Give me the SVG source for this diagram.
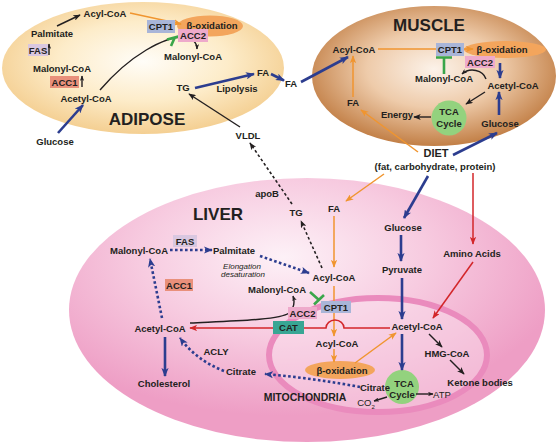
<svg xmlns="http://www.w3.org/2000/svg" width="560" height="446" viewBox="0 0 560 446">
<defs>
<radialGradient id="gA" cx="0.5" cy="0.45" r="0.55"><stop offset="0" stop-color="#fffdf8"/><stop offset="0.55" stop-color="#fdecc9"/><stop offset="1" stop-color="#f4cf92"/></radialGradient>
<radialGradient id="gM" cx="0.5" cy="0.45" r="0.55"><stop offset="0" stop-color="#fcf2e9"/><stop offset="0.5" stop-color="#eecbaa"/><stop offset="1" stop-color="#c27f46"/></radialGradient>
<radialGradient id="gL" cx="0.45" cy="0.3" r="0.6"><stop offset="0" stop-color="#fdf1f7"/><stop offset="0.5" stop-color="#f7cbe0"/><stop offset="1" stop-color="#ee9ec5"/></radialGradient>
<marker id="aB" viewBox="0 0 10 8" refX="9" refY="4" markerWidth="9" markerHeight="7.5" markerUnits="userSpaceOnUse" orient="auto"><path d="M0,0 L10,4 L0,8 L2.5,4 z" fill="#2c3d8f"/></marker>
<marker id="aO" viewBox="0 0 10 8" refX="9" refY="4" markerWidth="8" markerHeight="6.5" markerUnits="userSpaceOnUse" orient="auto"><path d="M0,0 L10,4 L0,8 L2.5,4 z" fill="#f0952f"/></marker>
<marker id="aR" viewBox="0 0 10 8" refX="9" refY="4" markerWidth="8" markerHeight="6.5" markerUnits="userSpaceOnUse" orient="auto"><path d="M0,0 L10,4 L0,8 L2.5,4 z" fill="#d3262a"/></marker>
<marker id="aK" viewBox="0 0 10 8" refX="9" refY="4" markerWidth="7.5" markerHeight="6" markerUnits="userSpaceOnUse" orient="auto"><path d="M0,0 L10,4 L0,8 L2.5,4 z" fill="#231f20"/></marker>
<marker id="aKs" viewBox="0 0 10 8" refX="9" refY="4" markerWidth="5.5" markerHeight="4.5" markerUnits="userSpaceOnUse" orient="auto"><path d="M0,0 L10,4 L0,8 L2.5,4 z" fill="#231f20"/></marker>
</defs>
<style>
text{font-family:"Liberation Sans",Arial,Helvetica,sans-serif;fill:#231f20;text-anchor:middle}
.t{font-size:9.5px;font-weight:bold}
.ttl{font-size:17px;font-weight:bold}
.it{font-size:8px;font-style:italic}
.th{font-size:9.5px}
.bl{stroke:#2c3d8f;stroke-width:2.6;fill:none}
.bd{stroke:#2c3d8f;stroke-width:2.6;fill:none;stroke-dasharray:2.6 2.4}
.or{stroke:#f0952f;stroke-width:1.5;fill:none}
.rd{stroke:#d3262a;stroke-width:1.5;fill:none}
.bk{stroke:#231f20;stroke-width:1.4;fill:none}
.kd{stroke:#231f20;stroke-width:1.6;fill:none;stroke-dasharray:2.8 2.4}
.gr{stroke:#3aa64a;stroke-width:2.6;fill:none}
.cpt{fill:#a9b5d8}
.acc2{fill:#eeaacb}
.fas{fill:#d9c7e0}
.acc1{fill:#e9907b}
.cat{fill:#38a694}
.box{font-size:9.5px;font-weight:bold}
.beta{fill:#f3a55c}
.tca{fill:#93d27e}
</style>
<rect width="560" height="446" fill="#ffffff"/>

<!-- compartments -->
<g id="liver-compartment">
<ellipse cx="307" cy="310" rx="238" ry="132" fill="url(#gL)"/>
<text class="ttl" x="218" y="220">LIVER</text>
</g>
<g id="mitochondria-compartment">
<ellipse cx="378" cy="355" rx="109" ry="57" fill="#fbe0ee" fill-opacity="0.45" stroke="#ea8bbd" stroke-width="6"/>
<text x="305" y="401" style="font-size:10.5px;font-weight:bold">MITOCHONDRIA</text>
</g>
<g id="adipose-compartment">
<ellipse cx="143" cy="68" rx="141" ry="66" fill="url(#gA)"/>
<text class="ttl" x="147" y="125">ADIPOSE</text>
</g>
<g id="muscle-compartment">
<ellipse cx="434" cy="76" rx="122" ry="70" fill="url(#gM)"/>
<text class="ttl" x="429" y="31">MUSCLE</text>
</g>

<!-- enzyme ellipses and circles under connectors -->
<g id="ad-beta"><ellipse class="beta" cx="210" cy="26" rx="33" ry="10.5"/><text class="t" x="212" y="29">β-oxidation</text></g>
<g id="mu-beta"><ellipse class="beta" cx="505" cy="49.5" rx="41" ry="8.5"/><text class="t" x="502" y="53">β-oxidation</text></g>
<g id="li-beta"><ellipse class="beta" cx="340" cy="370" rx="35" ry="9"/><text class="t" x="342" y="373.5">β-oxidation</text></g>
<g id="mu-tca"><circle class="tca" cx="449" cy="118" r="17.5"/><text class="t" x="449" y="115">TCA</text><text class="t" x="449" y="126.5">Cycle</text></g>
<g id="mi-tca"><circle class="tca" cx="402" cy="387" r="17"/><text class="t" x="404" y="386.5">TCA</text><text class="t" x="402" y="397.5">Cycle</text></g>

<g id="connectors">
<!-- adipose -->
<line class="bl" x1="58" y1="133" x2="83" y2="105" marker-end="url(#aB)"/>
<line class="bk" x1="57" y1="26" x2="80" y2="15" marker-end="url(#aK)"/>
<line class="bk" x1="49" y1="55" x2="49" y2="44" stroke-width="1" marker-end="url(#aKs)"/>
<line class="bk" x1="82" y1="87" x2="82" y2="76" stroke-width="1" marker-end="url(#aKs)"/>
<line class="or" x1="130" y1="13" x2="181" y2="24" marker-end="url(#aO)"/>
<path class="bk" d="M100,90 C130,55 165,36 185,37 C193,38 197,43 197,49" stroke-width="1.1" marker-end="url(#aKs)"/>
<line class="bl" x1="195" y1="88" x2="254" y2="74" marker-end="url(#aB)"/>
<line class="bl" x1="271" y1="74" x2="284" y2="80.5" marker-end="url(#aB)"/>
<line class="bl" x1="301" y1="82" x2="348" y2="57" marker-end="url(#aB)"/>
<line class="bk" x1="240" y1="127" x2="189" y2="94" marker-end="url(#aK)"/>
<line class="kd" x1="292" y1="204" x2="250" y2="143" marker-end="url(#aK)"/>
<!-- muscle -->
<line class="or" x1="378" y1="49" x2="473" y2="49" marker-end="url(#aO)"/>
<line class="or" x1="353" y1="97" x2="353" y2="56" marker-end="url(#aO)"/>
<line class="or" x1="418" y1="152" x2="361" y2="110" marker-end="url(#aO)"/>
<line class="bl" x1="500" y1="63" x2="500" y2="78" marker-end="url(#aB)"/>
<line class="bl" x1="499" y1="115" x2="499" y2="92" marker-end="url(#aB)"/>
<path class="bk" d="M486,79 C483,70 470,67 462,74" stroke-width="1.1" marker-end="url(#aKs)"/>
<line class="bk" x1="485" y1="92" x2="466" y2="104" marker-end="url(#aK)"/>
<line class="bk" x1="431" y1="117" x2="414" y2="117" marker-end="url(#aK)"/>
<line class="bl" x1="453" y1="155" x2="497" y2="133" stroke-width="2" marker-end="url(#aB)"/>
<!-- diet to liver -->
<line class="or" x1="384" y1="174" x2="346" y2="201" marker-end="url(#aO)"/>
<line class="bl" x1="428" y1="176" x2="404" y2="218" marker-end="url(#aB)"/>
<line class="rd" x1="473" y1="173" x2="473" y2="244" marker-end="url(#aR)"/>
<!-- liver -->
<line class="or" x1="334" y1="216" x2="334" y2="267" marker-end="url(#aO)"/>
<line class="kd" x1="322" y1="268" x2="301" y2="221" marker-end="url(#aK)"/>
<line class="or" x1="334" y1="286" x2="334" y2="336" marker-end="url(#aO)"/>
<line class="or" x1="334" y1="349" x2="334" y2="362" marker-end="url(#aO)"/>
<line class="or" x1="355" y1="363" x2="396" y2="333" marker-end="url(#aO)"/>
<path class="rd" d="M390,328 L344,328 A9,8 0 0 0 326,328 L190,328" marker-end="url(#aR)"/>
<path class="bk" d="M190,323 C232,321 280,320 289,313 C294,308 295,302 293,296" stroke-width="1.1" marker-end="url(#aKs)"/>
<line class="bd" x1="170" y1="250" x2="212" y2="250" marker-end="url(#aB)"/>
<line class="bd" x1="260" y1="256" x2="309" y2="273" marker-end="url(#aB)"/>
<line class="bd" x1="162" y1="318" x2="150" y2="259" marker-end="url(#aB)"/>
<line class="bl" x1="165" y1="337" x2="165" y2="376" marker-end="url(#aB)"/>
<path class="bd" d="M224,371 Q196,360 180,338" marker-end="url(#aB)"/>
<path class="bd" d="M360,387 Q312,378 265,374" marker-end="url(#aB)"/>
<line class="bl" x1="401" y1="235" x2="401" y2="261" marker-end="url(#aB)"/>
<line class="bl" x1="402" y1="278" x2="402" y2="319" marker-end="url(#aB)"/>
<line class="bl" x1="402" y1="334" x2="402" y2="370" marker-end="url(#aB)"/>
<line class="rd" x1="473" y1="262" x2="433" y2="318" marker-end="url(#aR)"/>
<line class="bk" x1="429" y1="334" x2="442" y2="347" marker-end="url(#aK)"/>
<line class="bk" x1="450" y1="360" x2="464" y2="374" marker-end="url(#aK)"/>
<line class="bk" x1="416" y1="394" x2="433" y2="394" stroke-width="1" marker-end="url(#aKs)"/>
<line class="bk" x1="387" y1="397" x2="374" y2="401" stroke-width="1" marker-end="url(#aKs)"/>
</g>

<!-- inhibition T markers -->
<g id="inhibitions">
<path class="gr" d="M171,46 L175,37 M167,39.5 L182,35.5"/>
<path class="gr" d="M444,74 L444,58 M436,57.5 L452,57.5"/>
<path class="gr" d="M310,292 L319,300 M314,304.5 L324,295"/>
</g>

<!-- adipose nodes -->
<g id="ad-acylcoa"><text class="t" x="105" y="16.5">Acyl-CoA</text></g>
<g id="ad-palmitate"><text class="t" x="52" y="36.5">Palmitate</text></g>
<g id="ad-fas"><rect class="fas" x="28" y="44" width="20" height="12"/><text class="box" x="38" y="53.5">FAS</text></g>
<g id="ad-malonyl1"><text class="t" x="62" y="71.5">Malonyl-CoA</text></g>
<g id="ad-acc1"><rect class="acc1" x="50" y="76" width="29" height="12"/><text class="box" x="64.5" y="85.5">ACC1</text></g>
<g id="ad-acetyl"><text class="t" x="86" y="101.5">Acetyl-CoA</text></g>
<g id="ad-glucose"><text class="t" x="55" y="145">Glucose</text></g>
<g id="ad-cpt1"><rect class="cpt" x="147" y="20" width="28" height="13"/><text class="box" x="161" y="30">CPT1</text></g>
<g id="ad-acc2"><rect class="acc2" x="178" y="29" width="30" height="13"/><text class="box" x="193" y="39">ACC2</text></g>
<g id="ad-malonyl2"><text class="t" x="193" y="59.5">Malonyl-CoA</text></g>
<g id="ad-tg"><text class="t" x="183" y="90.5">TG</text></g>
<g id="ad-lipolysis"><text class="t" x="237" y="91.5">Lipolysis</text></g>
<g id="ad-fa"><text class="t" x="263" y="75.5">FA</text></g>
<g id="fa-blood"><text class="t" x="291" y="86.5">FA</text></g>
<g id="vldl"><text class="t" x="248" y="138.5">VLDL</text></g>

<!-- muscle nodes -->
<g id="mu-acylcoa"><text class="t" x="354" y="52.5">Acyl-CoA</text></g>
<g id="mu-cpt1"><rect class="cpt" x="436" y="43" width="28" height="13"/><text class="box" x="450" y="53">CPT1</text></g>
<g id="mu-acc2"><rect class="acc2" x="465" y="56" width="30" height="12"/><text class="box" x="480" y="65.5">ACC2</text></g>
<g id="mu-malonyl"><text class="t" x="444" y="81.5">Malonyl-CoA</text></g>
<g id="mu-acetyl"><text class="t" x="513" y="88.5">Acetyl-CoA</text></g>
<g id="mu-glucose"><text class="t" x="500" y="126.5">Glucose</text></g>
<g id="mu-energy"><text class="t" x="397" y="117.5">Energy</text></g>
<g id="mu-fa"><text class="t" x="353" y="105.5">FA</text></g>
<g id="diet"><text x="436" y="157" style="font-size:11px;font-weight:bold">DIET</text><text class="t" x="435" y="170">(fat, carbohydrate, protein)</text></g>

<!-- liver nodes -->
<g id="li-apob"><text class="t" x="267" y="197">apoB</text></g>
<g id="li-tg"><text class="t" x="296" y="215.5">TG</text></g>
<g id="li-fa"><text class="t" x="334" y="211.5">FA</text></g>
<g id="li-acylcoa"><text class="t" x="334" y="280.5">Acyl-CoA</text></g>
<g id="li-malonyl2"><text class="t" x="277" y="292.5">Malonyl-CoA</text></g>
<g id="li-cpt1"><rect class="cpt" x="321" y="301" width="30" height="12"/><text class="box" x="336" y="310.5">CPT1</text></g>
<g id="li-acc2"><rect class="acc2" x="288" y="307" width="29" height="12"/><text class="box" x="302.5" y="316.5">ACC2</text></g>
<g id="li-cat"><rect class="cat" x="273" y="321" width="31" height="13"/><text class="box" x="288.5" y="331">CAT</text></g>
<g id="li-acylcoa2"><text class="t" x="337" y="346.5">Acyl-CoA</text></g>
<g id="li-malonyl"><text class="t" x="139" y="253.5">Malonyl-CoA</text></g>
<g id="li-fas"><rect class="fas" x="173" y="235" width="24" height="12"/><text class="box" x="185" y="244.5">FAS</text></g>
<g id="li-palmitate"><text class="t" x="234" y="253.5">Palmitate</text></g>
<g id="li-elong"><text class="it" x="242" y="269">Elongation</text><text class="it" x="243" y="277">desaturation</text></g>
<g id="li-acc1"><rect class="acc1" x="165" y="279" width="28" height="12"/><text class="box" x="179" y="288.5">ACC1</text></g>
<g id="li-acetyl"><text class="t" x="160" y="331.5">Acetyl-CoA</text></g>
<g id="li-cholesterol"><text class="t" x="164" y="386.5">Cholesterol</text></g>
<g id="li-acly"><text class="t" x="216" y="354.5">ACLY</text></g>
<g id="li-citrate"><text class="t" x="241" y="374.5">Citrate</text></g>
<g id="li-glucose"><text class="t" x="403" y="230.5">Glucose</text></g>
<g id="li-pyruvate"><text class="t" x="402" y="272.5">Pyruvate</text></g>
<g id="li-aminoacids"><text class="t" x="472" y="256.5">Amino Acids</text></g>
<g id="mi-acetyl"><text class="t" x="417" y="329.5">Acetyl-CoA</text></g>
<g id="mi-hmg"><text class="t" x="447" y="356.5">HMG-CoA</text></g>
<g id="mi-ketone"><text class="t" x="480" y="385.5">Ketone bodies</text></g>
<g id="mi-citrate"><text class="t" x="375" y="390.5">Citrate</text></g>
<g id="mi-atp"><text class="th" x="442" y="397.5">ATP</text></g>
<g id="mi-co2"><text class="th" x="366" y="406">CO<tspan font-size="6" dy="2.5">2</tspan></text></g>
</svg>
